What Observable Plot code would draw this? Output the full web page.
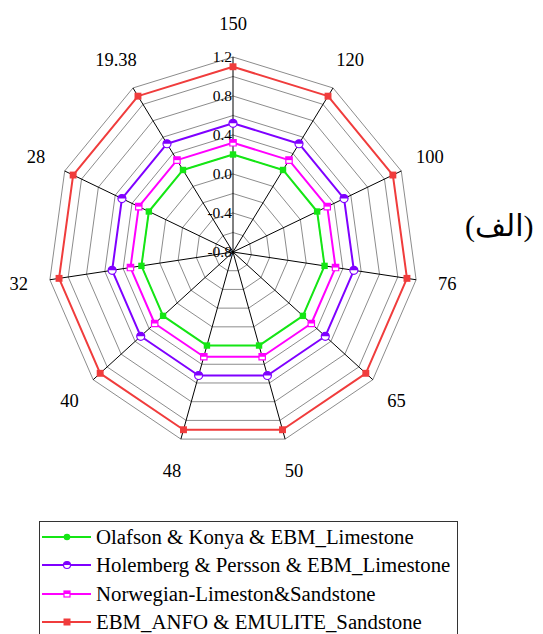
<!DOCTYPE html>
<html>
<head>
<meta charset="utf-8">
<script src="https://cdn.jsdelivr.net/npm/d3@7"></script>
<script src="https://cdn.jsdelivr.net/npm/@observablehq/plot@0.6"></script>
<style>
  html, body { margin: 0; padding: 0; background: #fff; overflow: hidden; }
  #wrap { position: relative; width: 543px; height: 634px; font-family: "Liberation Serif", Tinos, "Times New Roman", Times, "DejaVu Serif", serif; }
  #chart { position: absolute; left: 0; top: 0; }
  #unit { position: absolute; left: 465px; top: 208px; font-size: 30px; line-height: 36px; font-family: "Liberation Serif", "DejaVu Sans", serif; color: #000; }
  #legend { position: absolute; left: 39px; top: 521px; width: 419px; height: 140px; border: 1px solid #333; box-sizing: border-box; padding-top: 1px; }
  .row { display: flex; align-items: center; height: 28.3px; font-size: 20.8px; line-height: 28.3px; white-space: nowrap; }
  .row svg { margin-left: 2px; margin-right: 5px; flex: none; }
</style>
</head>
<body>
<div id="wrap">
  <div id="chart"></div>
  <div id="unit">(الف)</div>
  <div id="legend"></div>
</div>
<script>
// ---- data ----
const categories = ["150", "120", "100", "76", "65", "50", "48", "40", "32", "28", "19.38"];
const olafson   = [0.20, 0.20, 0.20, 0.20, 0.20, 0.20, 0.20, 0.20, 0.20, 0.20, 0.20];
const holemberg = [0.52, 0.52, 0.52, 0.52, 0.52, 0.52, 0.52, 0.52, 0.52, 0.52, 0.52];
const norwegian = [0.32, 0.32, 0.32, 0.32, 0.32, 0.32, 0.32, 0.32, 0.32, 0.32, 0.32];
const ebmAnfo   = [1.10, 1.10, 1.10, 1.10, 1.10, 1.10, 1.10, 1.10, 1.10, 1.10, 1.10];
const seriesNames = [
  "Olafson & Konya & EBM_Limestone",
  "Holemberg & Persson & EBM_Limestone",
  "Norwegian-Limeston&Sandstone",
  "EBM_ANFO & EMULITE_Sandstone"
];
const gridLevels = [-0.6, -0.4, -0.2, 0.0, 0.2, 0.4, 0.6, 0.8, 1.0, 1.2];
const tickValues = [-0.8, -0.4, 0.0, 0.4, 0.8, 1.2];
const rMin = -0.8, rMax = 1.2;

// ---- styles ----
const colors = ["#14e614", "#7f00ff", "#ff00ff", "#f03c3c"];
const seriesValues = [olafson, holemberg, norwegian, ebmAnfo];

const n = categories.length;
const cx = 232.5, cy = 251.5, rx = 185, ry = 195;
function pos(i, v) {
  const a = 2 * Math.PI * i / n;
  const r = (v - rMin) / (rMax - rMin);
  return {x: r * Math.sin(a), y: r * Math.cos(a)};
}

const gridRows = [];
for (const lv of gridLevels) {
  for (let i = 0; i <= n; i++) gridRows.push({level: lv, ...pos(i % n, lv)});
}
const spokes = categories.map((c, i) => ({cat: c, ...pos(i, rMax)}));
const labelRows = categories.map((c, i) => {
  const a = 2 * Math.PI * i / n;
  return {cat: c, x: 1.17 * Math.sin(a), y: 1.17 * Math.cos(a)};
});
const tickRows = tickValues.map(t => ({label: t.toFixed(1), ...pos(0, t)}));

const lineRows = [], dotRows = [];
seriesValues.forEach((vals, s) => {
  for (let i = 0; i <= n; i++) lineRows.push({s, ...pos(i % n, vals[i % n])});
  for (let i = 0; i < n; i++) dotRows.push({s, ...pos(i, vals[i])});
});

const halfCircle = {
  draw(ctx, size) {
    const r = Math.sqrt(size / Math.PI);
    ctx.moveTo(r, 0);
    ctx.arc(0, 0, r, 0, Math.PI, true);
    ctx.closePath();
  }
};
const halfSquare = {
  draw(ctx, size) {
    const h = Math.sqrt(size) / 2;
    ctx.moveTo(-h, -h);
    ctx.lineTo(h, -h);
    ctx.lineTo(h, 0);
    ctx.lineTo(-h, 0);
    ctx.closePath();
  }
};

const font = '"Liberation Serif", Tinos, "Times New Roman", Times, "DejaVu Serif", serif';
const ofS = s => dotRows.filter(d => d.s === s);

const chart = Plot.plot({
  width: 543,
  height: 521,
  x: {domain: [-1, 1], range: [cx - rx, cx + rx]},
  y: {domain: [-1, 1], range: [cy + ry, cy - ry]},
  axis: null,
  style: {fontFamily: font, background: "transparent", overflow: "visible"},
  marks: [
    Plot.line(gridRows, {x: "x", y: "y", z: "level", stroke: "#8c8c8c", strokeWidth: 1}),
    Plot.link(spokes, {x1: d => 0, y1: d => 0, x2: "x", y2: "y", stroke: "#000", strokeWidth: 1}),
    Plot.text(tickRows, {x: "x", y: "y", text: "label", textAnchor: "end", dx: -1, fontSize: 15.5, fill: "#000", fontFamily: font}),
    Plot.line(lineRows, {x: "x", y: "y", z: "s", stroke: d => colors[d.s], strokeWidth: 2}),
    Plot.dot(ofS(0), {x: "x", y: "y", symbol: "square", r: 3.6, fill: colors[0], stroke: "none"}),
    Plot.dot(ofS(1), {x: "x", y: "y", symbol: "circle", r: 4, fill: "#fff", stroke: colors[1], strokeWidth: 1.2}),
    Plot.dot(ofS(1), {x: "x", y: "y", symbol: halfCircle, r: 4, fill: colors[1], stroke: "none"}),
    Plot.dot(ofS(2), {x: "x", y: "y", symbol: "square", r: 3.6, fill: "#fff", stroke: colors[2], strokeWidth: 1.2}),
    Plot.dot(ofS(2), {x: "x", y: "y", symbol: halfSquare, r: 3.6, fill: colors[2], stroke: "none"}),
    Plot.dot(ofS(3), {x: "x", y: "y", symbol: "square", r: 3.9, fill: colors[3], stroke: "none"}),
    Plot.text(labelRows, {x: "x", y: "y", text: "cat", fontSize: 18.5, fill: "#000", fontFamily: font})
  ]
});
document.getElementById("chart").appendChild(chart);

const legend = d3.select("#legend");
const markerKinds = ["circle", "halfCircle", "halfSquare", "square"];
seriesNames.forEach((name, s) => {
  const row = legend.append("div").attr("class", "row");
  const svg = row.append("svg").attr("width", 49).attr("height", 14);
  svg.append("line").attr("x1", 0).attr("x2", 49).attr("y1", 7).attr("y2", 7)
    .attr("stroke", colors[s]).attr("stroke-width", 2);
  const k = markerKinds[s];
  if (k === "circle") {
    svg.append("circle").attr("cx", 25).attr("cy", 7).attr("r", 3.3).attr("fill", colors[s]);
  } else if (k === "halfCircle") {
    svg.append("circle").attr("cx", 25).attr("cy", 7).attr("r", 3.5).attr("fill", "#fff").attr("stroke", colors[s]).attr("stroke-width", 1.2);
    svg.append("path").attr("d", d3.arc()({innerRadius: 0, outerRadius: 3.5, startAngle: -Math.PI / 2, endAngle: Math.PI / 2})).attr("transform", "translate(25,7)").attr("fill", colors[s]);
  } else if (k === "halfSquare") {
    svg.append("rect").attr("x", 22).attr("y", 4).attr("width", 6).attr("height", 6).attr("fill", "#fff").attr("stroke", colors[s]).attr("stroke-width", 1.2);
    svg.append("rect").attr("x", 22).attr("y", 4).attr("width", 6).attr("height", 3).attr("fill", colors[s]);
  } else {
    svg.append("rect").attr("x", 21.5).attr("y", 3.5).attr("width", 7).attr("height", 7).attr("fill", colors[s]);
  }
  row.append("span").text(name);
});
</script>
</body>
</html>
